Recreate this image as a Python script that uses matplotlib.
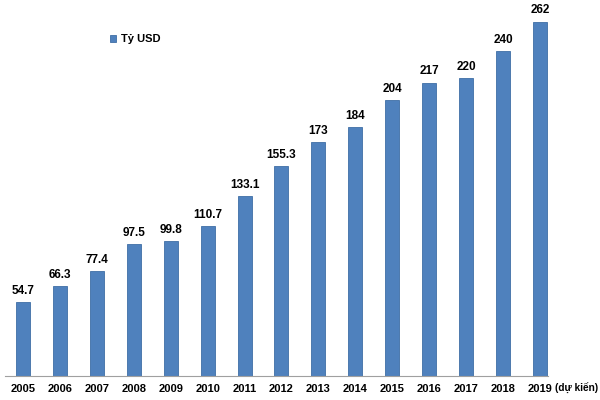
import matplotlib.pyplot as plt
import numpy as np

years = ['2005', '2006', '2007', '2008', '2009', '2010', '2011', '2012',
         '2013', '2014', '2015', '2016', '2017', '2018', '2019']
values = [54.7, 66.3, 77.4, 97.5, 99.8, 110.7, 133.1, 155.3,
          173, 184, 204, 217, 220, 240, 262]
labels = ['54.7', '66.3', '77.4', '97.5', '99.8', '110.7', '133.1', '155.3',
          '173', '184', '204', '217', '220', '240', '262']

plt.rcParams['font.family'] = ['Liberation Sans', 'DejaVu Sans']

fig = plt.figure(figsize=(6, 4), dpi=100)
ax = fig.add_axes([0.0075, 0.06, 0.906, 0.94])
x = np.arange(len(years))
ax.bar(x, values, width=0.38, color='#4f81bd', edgecolor='#3f6ea5',
       linewidth=0.6, label='Tỷ USD')
for xi, v, t in zip(x, values, labels):
    ax.text(xi, v + 4, t, ha='center', va='bottom', fontsize=8.5, fontweight='bold')

ax.set_xlim(-0.5, 14.22)
ax.set_ylim(0, 278)
ax.set_xticks(x)
ax.set_xticklabels(years, fontsize=8, fontweight='bold')
ax.tick_params(axis='x', length=0, pad=6)
ax.set_yticks([])
for s in ['top', 'right', 'left']:
    ax.spines[s].set_visible(False)
ax.spines['bottom'].set_color('#a0a0a0')
ax.text(14.42, -9.5, '(dự kiến)', fontsize=7.2, fontweight='bold',
        ha='left', va='center')

ax.legend(loc='upper left', bbox_to_anchor=(0.175, 0.935), frameon=False,
          handlelength=0.6, handleheight=0.6, handletextpad=0.4,
          prop={'size': 8, 'weight': 'bold'})

fig.savefig('out.png', dpi=100)
